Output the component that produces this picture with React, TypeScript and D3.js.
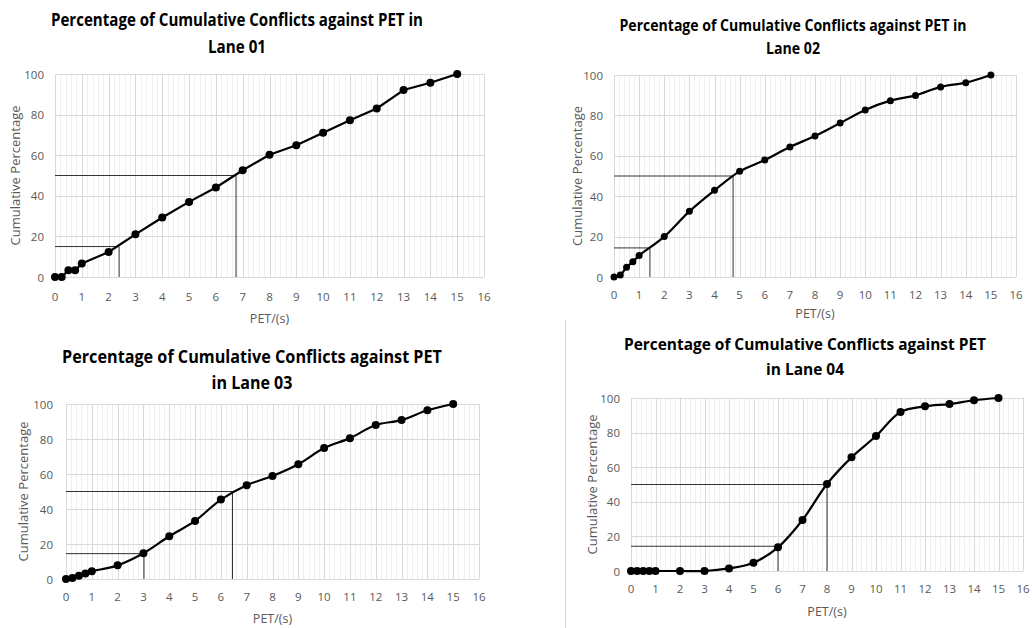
import React, { useEffect, useRef } from 'react';
import * as d3 from 'd3';

// PET values (s) shared by every lane
const petValues = [0, 0.25, 0.5, 0.75, 1, 2, 3, 4, 5, 6, 7, 8, 9, 10, 11, 12, 13, 14, 15];

const lane01 = [0, 0, 3.3, 3.3, 6.6, 12.3, 21, 29.3, 37, 44.1, 52.6, 60.2, 64.9, 71.1, 77.2, 83, 92.1, 95.7, 100];
const lane02 = [0, 1, 4.8, 7.6, 10.6, 20, 32.5, 42.9, 52.3, 57.9, 64.4, 69.8, 76.2, 82.7, 87.3, 89.9, 94.1, 96.2, 100];
const lane03 = [0, 0.6, 1.9, 3.2, 4.4, 7.8, 14.7, 24.4, 33.2, 45.4, 53.6, 58.9, 65.6, 74.8, 80.5, 88, 90.8, 96.4, 100];
const lane04 = [0, 0, 0, 0, 0, 0, 0, 1.5, 4.8, 13.7, 29.5, 50.3, 65.7, 78, 91.9, 95.2, 96.5, 98.7, 100];

// [PET, percentage] of the 15th and 50th percentile guide lines
const guides01 = [[2.39, 15], [6.75, 50]];
const guides02 = [[1.43, 14.4], [4.74, 50]];
const guides03 = [[3.02, 14.5], [6.45, 50]];
const guides04 = [[6, 14.3], [8, 50]];

const xTicks = d3.range(0, 17);
const yTicks = [0, 20, 40, 60, 80, 100];

const titles = [
  ['Percentage of Cumulative Conflicts against PET in', 'Lane 01'],
  ['Percentage of Cumulative Conflicts against PET in', 'Lane 02'],
  ['Percentage of Cumulative Conflicts against PET', 'in Lane 03'],
  ['Percentage of Cumulative Conflicts against PET', 'in Lane 04'],
];

const xLabel = 'PET/(s)';
const yLabel = 'Cumulative Percentage';

const panels = [
  { values: lane01, guides: guides01, title: titles[0], smooth: false,
    x0: 55, x1: 484, yTop: 74, yBot: 277, tY: [19, 46], tX: 237, tW: [372, 58], tFs: 17,
    tickY: 296, labY: 318, yLabX: 15, yTickX: 44, r: 4 },
  { values: lane02, guides: guides02, title: titles[1], smooth: true,
    x0: 614, x1: 1016, yTop: 75, yBot: 277, tY: [25, 48], tX: 793, tW: [347, 54], tFs: 15.5,
    tickY: 294, labY: 313, yLabX: 577, yTickX: 603, r: 3.5 },
  { values: lane03, guides: guides03, title: titles[2], smooth: true,
    x0: 66, x1: 479, yTop: 404, yBot: 579, tY: [356, 382], tX: 252, tW: [380, 81], tFs: 17,
    tickY: 596, labY: 618, yLabX: 23, yTickX: 53, r: 4 },
  { values: lane04, guides: guides04, title: titles[3], smooth: true,
    x0: 631, x1: 1023, yTop: 398, yBot: 571, tY: [343, 368], tX: 805, tW: [362, 78], tFs: 16.5,
    tickY: 588, labY: 611, yLabX: 592, yTickX: 620, r: 4 },
];

const font = "'Open Sans', 'Liberation Sans', sans-serif";

export default function App() {
  const ref = useRef<SVGSVGElement>(null);

  useEffect(() => {
    const svg = d3.select(ref.current);
    svg.selectAll('*').remove();

    svg.append('rect').attr('width', 1032).attr('height', 628).attr('fill', '#fff');
    svg.append('line')
      .attr('x1', 565.5).attr('x2', 565.5).attr('y1', 320).attr('y2', 628)
      .attr('stroke', '#d9d9d9');

    panels.forEach(p => {
      const x = d3.scaleLinear().domain([0, 16]).range([p.x0, p.x1]);
      const y = d3.scaleLinear().domain([0, 100]).range([p.yBot, p.yTop]);
      const g = svg.append('g');

      // minor vertical grid
      g.selectAll('.minor')
        .data(d3.range(0, 80).filter(i => i % 5 !== 0).map(i => i / 5))
        .enter().append('line')
        .attr('x1', d => Math.round(x(d)) + 0.5).attr('x2', d => Math.round(x(d)) + 0.5)
        .attr('y1', p.yTop).attr('y2', p.yBot)
        .attr('stroke', '#efefef');

      g.selectAll('.vmaj')
        .data(xTicks)
        .enter().append('line')
        .attr('x1', d => Math.round(x(d)) + 0.5).attr('x2', d => Math.round(x(d)) + 0.5)
        .attr('y1', p.yTop).attr('y2', p.yBot)
        .attr('stroke', '#d9d9d9');

      g.selectAll('.hmaj')
        .data(yTicks)
        .enter().append('line')
        .attr('x1', p.x0).attr('x2', p.x1)
        .attr('y1', d => Math.round(y(d)) + 0.5).attr('y2', d => Math.round(y(d)) + 0.5)
        .attr('stroke', '#d9d9d9');

      // tick labels
      g.selectAll('.xt')
        .data(xTicks)
        .enter().append('text')
        .attr('x', d => x(d)).attr('y', p.tickY)
        .attr('text-anchor', 'middle').attr('dominant-baseline', 'central')
        .attr('font-family', font).attr('font-size', 11.5).attr('fill', '#595959')
        .text(d => d);

      g.selectAll('.yt')
        .data(yTicks)
        .enter().append('text')
        .attr('x', p.yTickX).attr('y', d => y(d))
        .attr('text-anchor', 'end').attr('dominant-baseline', 'central')
        .attr('font-family', font).attr('font-size', 11.5).attr('fill', '#595959')
        .text(d => d);

      g.append('text')
        .attr('x', (p.x0 + p.x1) / 2).attr('y', p.labY)
        .attr('text-anchor', 'middle').attr('dominant-baseline', 'central')
        .attr('font-family', font).attr('font-size', 12.5).attr('fill', '#595959')
        .text(xLabel);

      g.append('text')
        .attr('transform', `translate(${p.yLabX},${(p.yTop + p.yBot) / 2}) rotate(-90)`)
        .attr('text-anchor', 'middle').attr('dominant-baseline', 'central')
        .attr('font-family', font).attr('font-size', 12.5).attr('fill', '#595959')
        .attr('textLength', 140).attr('lengthAdjust', 'spacingAndGlyphs')
        .text(yLabel);

      // titles
      p.title.forEach((t, i) => {
        g.append('text')
          .attr('x', p.tX).attr('y', p.tY[i])
          .attr('text-anchor', 'middle').attr('dominant-baseline', 'central')
          .attr('font-family', font).attr('font-weight', 'bold')
          .attr('font-size', p.tFs).attr('fill', '#000')
          .attr('textLength', p.tW[i]).attr('lengthAdjust', 'spacingAndGlyphs')
          .text(t);
      });

      // guide lines
      p.guides.forEach(([gx, gy]) => {
        g.append('path')
          .attr('d', `M${x(0)},${y(gy)}H${x(gx)}M${x(gx)},${y(gy)}V${y(0)}`)
          .attr('fill', 'none').attr('stroke', '#333').attr('stroke-width', 1);
      });

      const pts = petValues.map((v, i) => [v, p.values[i]]);
      const line = d3.line()
        .x(d => x(d[0])).y(d => y(d[1]))
        .curve(p.smooth ? d3.curveCatmullRom.alpha(0.5) : d3.curveLinear);

      g.append('path')
        .datum(pts)
        .attr('d', line)
        .attr('fill', 'none').attr('stroke', '#000').attr('stroke-width', 2.2)
        .attr('stroke-linejoin', 'round');

      g.selectAll('.pt')
        .data(pts)
        .enter().append('circle')
        .attr('cx', d => x(d[0])).attr('cy', d => y(d[1]))
        .attr('r', p.r).attr('fill', '#000');
    });
  }, []);

  return (
    <svg ref={ref} width={1032} height={628}
      style={{ position: 'absolute', left: 0, top: 0, display: 'block' }} />
  );
}
